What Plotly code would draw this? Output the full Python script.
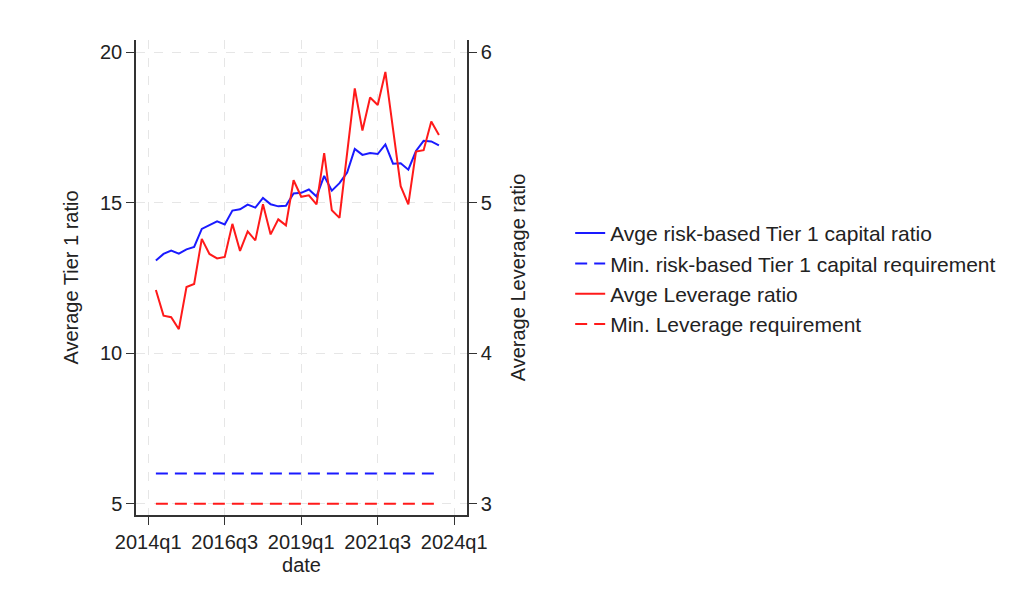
import plotly.graph_objects as go

quarters = ["2014q2","2014q3","2014q4","2015q1","2015q2","2015q3","2015q4","2016q1",
            "2016q2","2016q3","2016q4","2017q1","2017q2","2017q3","2017q4","2018q1",
            "2018q2","2018q3","2018q4","2019q1","2019q2","2019q3","2019q4","2020q1",
            "2020q2","2020q3","2020q4","2021q1","2021q2","2021q3","2021q4","2022q1",
            "2022q2","2022q3","2022q4","2023q1","2023q2","2023q3"]

tier1_ratio = [13.08,13.30,13.41,13.31,13.45,13.53,14.13,14.25,14.38,14.28,
               14.74,14.78,14.94,14.84,15.16,14.95,14.88,14.90,15.31,15.33,
               15.44,15.21,15.89,15.40,15.65,16.00,16.79,16.59,16.65,16.62,
               16.94,16.30,16.31,16.10,16.72,17.06,17.04,16.91]
tier1_min = [6.0]*len(quarters)

leverage_ratio = [4.42,4.25,4.24,4.16,4.44,4.46,4.76,4.66,4.63,4.64,
                  4.86,4.68,4.81,4.75,4.99,4.79,4.89,4.85,5.15,5.04,
                  5.05,4.99,5.33,4.95,4.90,5.33,5.76,5.48,5.70,5.65,
                  5.87,5.49,5.11,4.99,5.34,5.35,5.54,5.45]
leverage_min = [3.0]*len(quarters)

tick_labels = ["2014q1","2016q3","2019q1","2021q3","2024q1"]

def qidx(s):
    y, q = s.split("q")
    return (int(y) - 2014) * 4 + int(q) - 1

x = [qidx(s) for s in quarters]
tickvals = [qidx(s) for s in tick_labels]

fig = go.Figure()
fig.add_trace(go.Scatter(x=x, y=tier1_ratio, mode="lines", name="Avge risk-based Tier 1 capital ratio",
                         line=dict(color="#1a1aff", width=2), text=quarters))
fig.add_trace(go.Scatter(x=x, y=tier1_min, mode="lines", name="Min. risk-based Tier 1 capital requirement",
                         line=dict(color="#1a1aff", width=2, dash="12px,7px")))
fig.add_trace(go.Scatter(x=x, y=leverage_ratio, mode="lines", name="Avge Leverage ratio",
                         line=dict(color="#ff1a1a", width=2), yaxis="y2"))
fig.add_trace(go.Scatter(x=x, y=leverage_min, mode="lines", name="Min. Leverage requirement",
                         line=dict(color="#ff1a1a", width=2, dash="12px,7px"), yaxis="y2"))

axcol = "#333333"
txt = "#222222"
tickfont = dict(family="Liberation Sans, Arial", size=20, color=txt)
titlefont = dict(family="Liberation Sans, Arial", size=20, color=txt)
fig.update_layout(
    width=1024, height=594,
    margin=dict(l=128, r=565, t=32, b=87),
    paper_bgcolor="white", plot_bgcolor="white",
    font=dict(family="Liberation Sans, Arial", size=20, color=txt),
    xaxis=dict(range=[-1.6, 41.67], tickvals=tickvals, ticktext=tick_labels, tickfont=tickfont,
               showgrid=True, gridcolor="#e6e6e6", griddash="dash", gridwidth=1,
               showline=True, linecolor=axcol, linewidth=1.5, ticks="outside", ticklen=8,
               tickcolor=axcol, zeroline=False,
               title=dict(text="date", standoff=6, font=titlefont)),
    yaxis=dict(range=[4.62, 20.41], tickvals=[5, 10, 15, 20], tickfont=tickfont,
               showgrid=True, gridcolor="#e6e6e6", griddash="dash", gridwidth=1,
               showline=True, linecolor=axcol, linewidth=1.5, ticks="outside", ticklen=8,
               tickcolor=axcol, zeroline=False,
               title=dict(text="Average Tier 1 ratio", standoff=16, font=titlefont)),
    yaxis2=dict(range=[2.925, 6.082], tickvals=[3, 4, 5, 6], overlaying="y", side="right",
                tickfont=tickfont,
                showgrid=False, showline=True, linecolor=axcol, linewidth=1.5, ticks="outside",
                ticklen=8, tickcolor=axcol, zeroline=False,
                title=dict(text="Average Leverage ratio", standoff=20, font=titlefont)),
    legend=dict(xref="container", yref="container", x=0.549, y=0.655, xanchor="left", yanchor="top",
                font=dict(family="Liberation Sans, Arial", size=21, color=txt),
                tracegroupgap=0, bgcolor="rgba(0,0,0,0)"),
    showlegend=True,
)

fig.write_html("out.html")
